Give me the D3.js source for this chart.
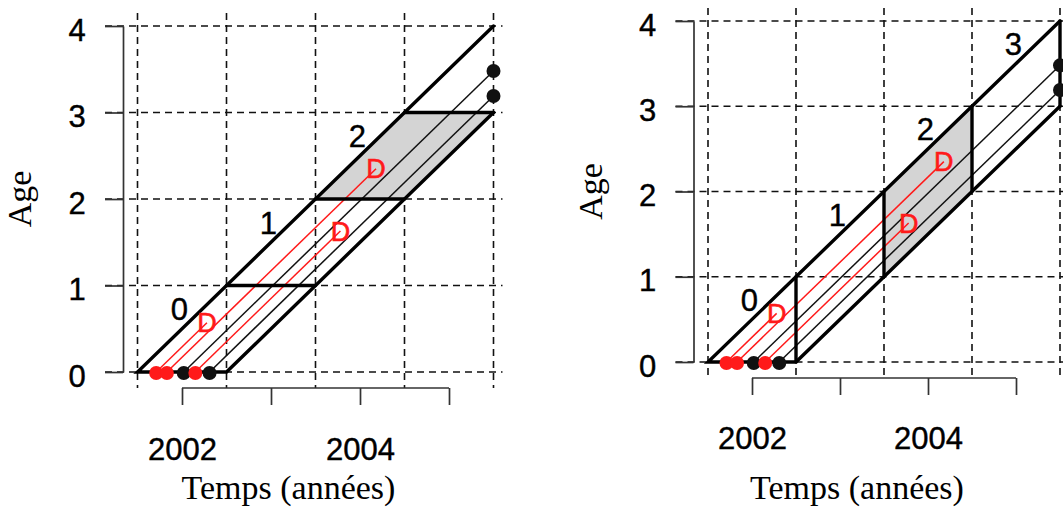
<!DOCTYPE html>
<html>
<head>
<meta charset="utf-8">
<script src="https://cdn.jsdelivr.net/npm/d3@7"></script>
<style>
  body { margin: 0; background: #fff; }
  svg { display: block; }
</style>
</head>
<body>
<div id="vis"></div>
<script>
// ages on the y axis and the calendar grid (gridlines fall on mid-years)
const ages = [0, 1, 2, 3, 4];
const gridYears = [2001.5, 2002.5, 2003.5, 2004.5, 2005.5];
const tickYears = [2002, 2003, 2004, 2005];
const labelYears = [2002, 2004];

// cohort born between mid-2001 and mid-2002, followed until mid-2005
const cohortStart = 2001.5;
const cohortEnd = 2002.5;
const endYear = 2005.5;

// individuals: birth date and age at death (null = still alive at the end)
const births = [2001.71, 2001.83, 2002.02, 2002.15, 2002.31];
const deathAges = [0.57, 2.35, null, 1.63, null];

// ages written along the upper edge of the band
const leftAgeLabels = [0, 1, 2];
const rightAgeLabels = [0, 1, 2, 3];

// shaded area of each diagram (year, age)
const leftShade = [[2003.5, 2], [2004.5, 3], [2005.5, 3], [2004.5, 2]];
const rightShade = [[2003.5, 1], [2003.5, 2], [2004.5, 3], [2004.5, 2]];

const width = 1063;
const height = 513;

const svg = d3.select("#vis")
  .append("svg")
  .attr("width", width)
  .attr("height", height);

const sansFont = "'Liberation Sans', Arial, sans-serif";
const serifFont = "'Liberation Serif', 'Times New Roman', serif";
const red = "#ff1a1a";

function drawPanel(cfg) {
  const x = d3.scaleLinear().domain([2001.5, 2005.5]).range(cfg.xRange);
  const y = d3.scaleLinear().domain([0, 4]).range(cfg.yRange);
  const g = svg.append("g");

  const axisX = x(2001.5) - 14.5;
  const axisY = y(0) + 16;

  // dashed grid
  const grid = g.append("g")
    .attr("stroke", "#111")
    .attr("stroke-width", 1.6)
    .attr("stroke-dasharray", "7,5");
  grid.selectAll(".hgrid")
    .data(ages)
    .enter()
    .append("line")
    .attr("x1", axisX - 18)
    .attr("x2", x(2001.5) + 365)
    .attr("y1", (d) => y(d))
    .attr("y2", (d) => y(d));
  grid.selectAll(".vgrid")
    .data(gridYears)
    .enter()
    .append("line")
    .attr("x1", (d) => x(d))
    .attr("x2", (d) => x(d))
    .attr("y1", y(4) - 13)
    .attr("y2", axisY);

  // shaded region
  g.append("path")
    .attr("d", d3.line().x((d) => x(d[0])).y((d) => y(d[1]))(cfg.shade) + "Z")
    .attr("fill", "#d4d4d4")
    .attr("stroke", "none");

  // life lines
  const people = births.map((b, i) => {
    const dead = deathAges[i] !== null;
    const age = dead ? deathAges[i] : endYear - b;
    return { birth: b, dead: dead, endX: b + age, endAge: age };
  });

  g.selectAll(".life")
    .data(people)
    .enter()
    .append("line")
    .attr("x1", (d) => x(d.birth))
    .attr("y1", y(0))
    .attr("x2", (d) => x(d.endX))
    .attr("y2", (d) => y(d.endAge))
    .attr("stroke", (d) => (d.dead ? red : "#111"))
    .attr("stroke-width", 1.5);

  // outline of the cohort band
  const thick = g.append("g")
    .attr("stroke", "#000")
    .attr("stroke-width", 3.4)
    .attr("fill", "none")
    .attr("stroke-linecap", "round");
  thick.append("path")
    .attr("d", d3.line().x((d) => x(d[0])).y((d) => y(d[1]))([
      [cohortStart + 4, 4], [cohortStart, 0], [cohortEnd, 0], [endYear, endYear - cohortEnd]
    ]));

  if (cfg.mode === "age") {
    // horizontal boundaries at each birthday
    thick.selectAll(".seg")
      .data([1, 2, 3])
      .enter()
      .append("line")
      .attr("x1", (a) => x(cohortStart + a))
      .attr("x2", (a) => x(cohortEnd + a))
      .attr("y1", (a) => y(a))
      .attr("y2", (a) => y(a));
  } else {
    // vertical boundaries at each new year (mid-year grid)
    thick.selectAll(".seg")
      .data([0, 1, 2, 3])
      .enter()
      .append("line")
      .attr("x1", (k) => x(cohortEnd + k))
      .attr("x2", (k) => x(cohortEnd + k))
      .attr("y1", (k) => y(k))
      .attr("y2", (k) => y(k + 1));
  }

  // birth dots
  g.selectAll(".birth")
    .data(people)
    .enter()
    .append("circle")
    .attr("cx", (d) => x(d.birth))
    .attr("cy", y(0) + 1)
    .attr("r", 7)
    .attr("fill", (d) => (d.dead ? red : "#111"));

  // censored at the end
  g.selectAll(".cens")
    .data(people.filter((d) => !d.dead))
    .enter()
    .append("circle")
    .attr("cx", (d) => x(d.endX))
    .attr("cy", (d) => y(d.endAge))
    .attr("r", 7)
    .attr("fill", "#111");

  // deaths
  g.selectAll(".death")
    .data(people.filter((d) => d.dead))
    .enter()
    .append("text")
    .attr("x", (d) => x(d.endX))
    .attr("y", (d) => y(d.endAge))
    .attr("dy", "0.36em")
    .attr("text-anchor", "middle")
    .attr("font-family", sansFont)
    .attr("font-size", 27)
    .attr("fill", red)
    .attr("stroke", red)
    .attr("stroke-width", 0.6)
    .text("D");

  // age labels along the band
  g.selectAll(".agelab")
    .data(cfg.labels)
    .enter()
    .append("text")
    .attr("x", (k) => x(2001.97 + k))
    .attr("y", (k) => y(k + 0.73))
    .attr("dy", "0.36em")
    .attr("text-anchor", "middle")
    .attr("font-family", sansFont)
    .attr("font-size", 31)
    .attr("fill", "#000")
    .attr("stroke", "#000")
    .attr("stroke-width", 0.4)
    .text((k) => k);

  // y axis
  const yAxis = g.append("g")
    .attr("transform", `translate(${axisX},0)`)
    .call(d3.axisLeft(y).tickValues(ages).tickSize(18).tickSizeOuter(0).tickFormat(d3.format("d")));
  yAxis.selectAll("path, line").attr("stroke", "#333").attr("stroke-width", 1.7);
  yAxis.selectAll("text")
    .attr("x", -46)
    .attr("dy", "0.36em")
    .attr("y", 3)
    .attr("text-anchor", "middle")
    .attr("font-family", sansFont)
    .attr("font-size", 31)
    .attr("fill", "#000")
    .attr("stroke", "#000")
    .attr("stroke-width", 0.4);

  // x axis, spanning 2002..2005 only
  const xAxis = g.append("g")
    .attr("transform", `translate(0,${axisY})`)
    .call(d3.axisBottom(x).tickValues(tickYears).tickSize(17).tickSizeOuter(0)
      .tickFormat((d) => (labelYears.includes(d) ? d : "")));
  xAxis.select(".domain").attr("d", `M${x(2002)},0H${x(2005)}`);
  xAxis.selectAll("path, line").attr("stroke", "#333").attr("stroke-width", 1.7);
  xAxis.selectAll("text")
    .attr("y", cfg.xLabelY)
    .attr("dy", "0")
    .attr("font-family", sansFont)
    .attr("font-size", 31)
    .attr("fill", "#000")
    .attr("stroke", "#000")
    .attr("stroke-width", 0.4);

  // axis titles
  g.append("text")
    .attr("transform", `translate(${axisX - 102},${y(2)}) rotate(-90)`)
    .attr("text-anchor", "middle")
    .attr("dy", "0.3em")
    .attr("font-family", serifFont)
    .attr("font-size", 34)
    .attr("fill", "#000")
    .text("Age");

  g.append("text")
    .attr("x", (x(2002) + x(2005)) / 2 - 27)
    .attr("y", 499)
    .attr("text-anchor", "middle")
    .attr("font-family", serifFont)
    .attr("font-size", 34)
    .attr("fill", "#000")
    .text("Temps (années)");
}

drawPanel({ xRange: [137.5, 493.5], yRange: [372, 26], mode: "age", labels: leftAgeLabels, shade: leftShade, xLabelY: 72 });
drawPanel({ xRange: [708, 1060], yRange: [362, 21], mode: "time", labels: rightAgeLabels, shade: rightShade, xLabelY: 71 });
</script>
</body>
</html>
